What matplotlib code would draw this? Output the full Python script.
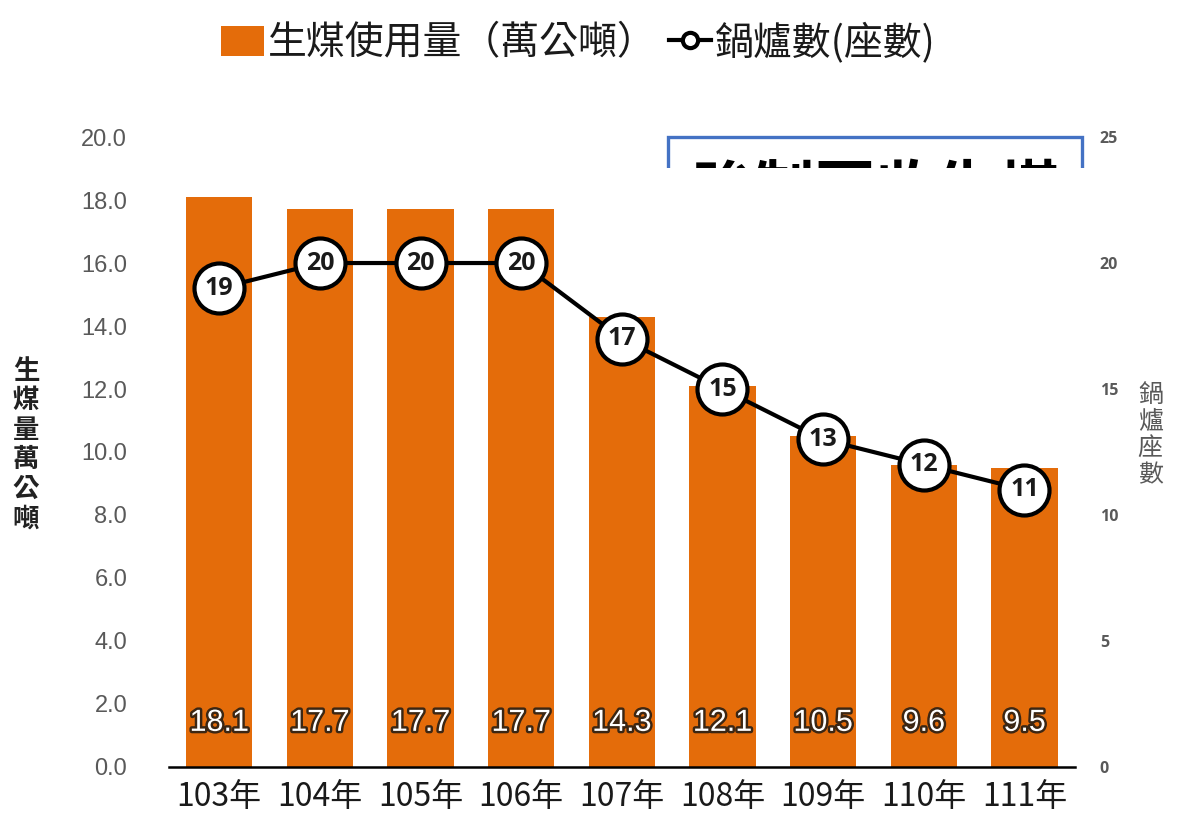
import matplotlib
matplotlib.use('Agg')
import matplotlib.pyplot as plt
import matplotlib.patheffects as pe
from matplotlib.patches import Patch, Rectangle
from matplotlib.lines import Line2D
import numpy as np

plt.rcParams['font.family'] = ['Noto Sans CJK TC', 'DejaVu Sans']

years = ['103年', '104年', '105年', '106年', '107年', '108年', '109年', '110年', '111年']
coal_use = [18.1, 17.7, 17.7, 17.7, 14.3, 12.1, 10.5, 9.6, 9.5]
boilers = [19, 20, 20, 20, 17, 15, 13, 12, 11]
left_ticks = [0, 2, 4, 6, 8, 10, 12, 14, 16, 18, 20]
right_ticks = [0, 5, 10, 15, 20, 25]

orange = '#E46C0A'
gray = '#595959'

fig = plt.figure(figsize=(11.81, 8.27), dpi=100)
ax1 = fig.add_axes([0.143, 0.0726, 0.767, 0.7617])
ax2 = ax1.twinx()

x = np.arange(len(years))
ax1.bar(x, coal_use, width=0.66, color=orange, zorder=2)
for xi, v in zip(x, coal_use):
    ax1.text(xi, 1.4, f'{v:.1f}', ha='center', va='center', fontsize=22,
             family='Liberation Sans', color='white', zorder=5,
             path_effects=[pe.withStroke(linewidth=3.5, foreground='#3b2613')])

ax1.set_xlim(-0.5, 8.5)
ax1.set_ylim(0, 20)
ax1.set_yticks(left_ticks)
ax1.set_yticklabels([f'{t:.1f}' for t in left_ticks], family='Liberation Sans',
                    fontsize=17, color=gray)
ax1.set_xticks(x)
ax1.set_xticklabels(years, fontsize=23, color='#1a1a1a')
ax1.tick_params(axis='y', length=0, pad=30)
ax1.tick_params(axis='x', length=0, pad=10)
for s in ['top', 'right', 'left']:
    ax1.spines[s].set_visible(False)
ax1.spines['bottom'].set_linewidth(1.8)
ax1.spines['bottom'].set_zorder(6)

ax2.plot(x, boilers, color='black', linewidth=3, marker='o', markersize=36,
         markerfacecolor='white', markeredgecolor='black', markeredgewidth=3,
         zorder=3)
for xi, b in zip(x, boilers):
    ax2.text(xi, b, str(b), ha='center', va='center', fontsize=18,
             family='Open Sans', fontweight='bold', color='#1a1a1a', zorder=4)
ax2.set_ylim(0, 25)
ax2.set_yticks(right_ticks)
ax2.set_yticklabels([str(t) for t in right_ticks], family='Open Sans',
                    fontsize=11.5, fontweight='bold', color=gray)
ax2.tick_params(axis='y', length=0, pad=18)
for s in ['top', 'right', 'left', 'bottom']:
    ax2.spines[s].set_visible(False)

# axis titles, stacked vertically
fig.text(0.022, 0.462, '生\n煤\n量\n萬\n公\n噸', ha='center', va='center',
         fontsize=19, fontweight='bold', color='#222222', linespacing=1.12)
fig.text(0.974, 0.474, '鍋\n爐\n座\n數', ha='center', va='center',
         fontsize=18, color=gray, linespacing=1.05)

# partly hidden callout box in the top right
clip = Rectangle((0.5, 0.797), 0.5, 0.2, transform=fig.transFigure,
                 facecolor='none', edgecolor='none')
box = Rectangle((0.5656, 0.70), 0.3506, 0.1343, transform=fig.transFigure,
                facecolor='white', edgecolor='#4472C4', linewidth=2.4, zorder=1)
fig.add_artist(box)
box.set_clip_path(clip)
t = fig.text(0.741, 0.766, '強制回收生煤', ha='center', va='center',
             fontsize=44, fontweight='bold', color='black')
t.set_clip_path(clip)

handles = [Patch(facecolor=orange, edgecolor='none'),
           Line2D([0], [0], color='black', linewidth=3, marker='o',
                  markersize=11, markerfacecolor='white',
                  markeredgecolor='black', markeredgewidth=3)]
fig.legend(handles, ['生煤使用量（萬公噸）', '鍋爐數(座數)'], loc='upper center',
           bbox_to_anchor=(0.49, 1.015), ncol=2, frameon=False, fontsize=28,
           handlelength=1.1, handleheight=0.8, handletextpad=0.1,
           columnspacing=0.3, labelcolor='#1a1a1a')

fig.savefig('out.png', dpi=100)
